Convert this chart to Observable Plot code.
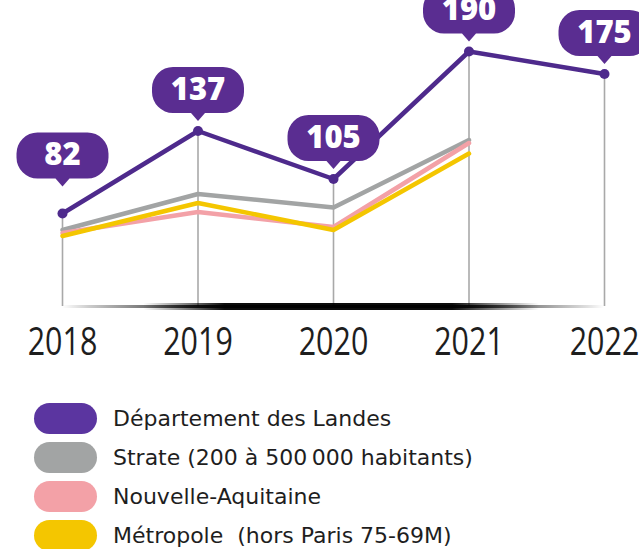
<!DOCTYPE html>
<html><head><meta charset="utf-8">
<script src="https://cdn.jsdelivr.net/npm/d3@7"></script>
<script src="https://cdn.jsdelivr.net/npm/@observablehq/plot@0.6"></script>
<style>
body{margin:0;background:#fff;}
#legend{padding-top:29px;margin-left:34px;font-family:"DejaVu Sans",sans-serif;font-size:22px;color:#1e1e1e;}
.row{display:flex;align-items:center;height:39px;}
.sw{width:63px;height:31px;border-radius:16px;margin-right:16px;flex:none;}
</style></head><body>
<div id="chart"></div><div id="legend"></div>
<script>
const years = [2018, 2019, 2020, 2021, 2022];
const landes = [82, 137, 105, 190, 175];
const strate = [71, 95, 86, 131, null];
const nouvelleAquitaine = [69, 83, 73, 129, null];
const metropole = [67, 89, 71, 122, null];
const seriesNames = ["Département des Landes", "Strate (200 à 500\u2009000 habitants)", "Nouvelle-Aquitaine", "Métropole\u00a0 (hors Paris 75-69M)"];
const seriesColors = ["#5b35a0", "#a2a4a4", "#f3a1a7", "#f4c600"];
const yBase = 20;

const toRows = (vals) => years.map((year, i) => ({year, value: vals[i]})).filter(d => d.value != null);
const landesRows = toRows(landes);

const LINE = "#4e2a8c", BUB = "#5a2d91";
const W = 92, H = 46, R = 21, TW = 7, TH = 8;
function bubble(gap) {
  return {draw(ctx) {
    const b = -gap - TH, t = b - H, l = -W / 2, r = W / 2;
    ctx.moveTo(0, -gap);
    ctx.lineTo(-TW, b);
    ctx.lineTo(l + R, b);
    ctx.arcTo(l, b, l, b - R, R);
    ctx.lineTo(l, t + R);
    ctx.arcTo(l, t, l + R, t, R);
    ctx.lineTo(r - R, t);
    ctx.arcTo(r, t, r, t + R, R);
    ctx.lineTo(r, b - R);
    ctx.arcTo(r, b, r - R, b, R);
    ctx.lineTo(TW, b);
    ctx.closePath();
  }};
}
const gapFirst = 27, gapRest = 10;
const first = landesRows.slice(0, 1), rest = landesRows.slice(1);
const labelFont = {fill: "white", fontSize: 31, fontWeight: 800, fontFamily: "Open Sans, sans-serif", text: d => String(d.value), lineAnchor: "middle"};

const chart = Plot.plot({
  width: 639, height: 370,
  marginLeft: 62, marginRight: 35, marginTop: 36, marginBottom: 64,
  x: {domain: [years[0], years[years.length - 1]], axis: null},
  y: {domain: [yBase, 200], axis: null},
  marks: [
    Plot.ruleX(landesRows, {x: "year", y1: yBase, y2: "value", stroke: "#a9a9a9", strokeWidth: 1.6}),
    Plot.ruleY([yBase], {x1: years[0], x2: years[years.length - 1], stroke: "url(#shadowThin)", strokeWidth: 3}),
    Plot.ruleY([yBase], {x1: years[0], x2: years[years.length - 1], stroke: "url(#shadowThick)", strokeWidth: 7}),
    Plot.line(toRows(strate), {x: "year", y: "value", stroke: seriesColors[1], strokeWidth: 4.5}),
    Plot.line(toRows(nouvelleAquitaine), {x: "year", y: "value", stroke: seriesColors[2], strokeWidth: 4.5}),
    Plot.line(toRows(metropole), {x: "year", y: "value", stroke: seriesColors[3], strokeWidth: 4.5}),
    Plot.line(landesRows, {x: "year", y: "value", stroke: LINE, strokeWidth: 4.5}),
    Plot.dot(landesRows, {x: "year", y: "value", r: 5, fill: LINE}),
    Plot.dot(first, {x: "year", y: "value", r: 1, symbol: bubble(gapFirst), fill: BUB}),
    Plot.dot(rest, {x: "year", y: "value", r: 1, symbol: bubble(gapRest), fill: BUB}),
    Plot.text(first, {x: "year", y: "value", dy: -(gapFirst + TH + H / 2), ...labelFont}),
    Plot.text(rest, {x: "year", y: "value", dy: -(gapRest + TH + H / 2), ...labelFont}),
    Plot.axisX(years, {tickFormat: d => String(d), tickSize: 0, tickPadding: 22, fontSize: 38, label: null,
      fontFamily: "'Open Sans', sans-serif", fontWeight: 500, fill: "#1e1e1e"})
  ]
});
document.getElementById("chart").appendChild(chart);

// condense the year labels horizontally (the reference uses a narrow face)
const yearStrings = years.map(String);
d3.select(chart).selectAll("text").filter(function () { return yearStrings.includes(this.textContent.trim()); }).each(function () {
  const t = this.getAttribute("transform");
  if (t) {
    this.setAttribute("transform", `${t} scale(0.8,1)`);
  } else {
    const x = +this.getAttribute("x") || 0;
    this.setAttribute("transform", `translate(${x},0) scale(0.8,1)`);
    this.setAttribute("x", 0);
  }
});

const xs = chart.scale("x");
const defs = d3.select(chart).insert("defs", ":first-child");
function grad(id, stops) {
  const g = defs.append("linearGradient").attr("id", id).attr("gradientUnits", "userSpaceOnUse")
    .attr("x1", xs.apply(years[0])).attr("x2", xs.apply(years[years.length - 1])).attr("y1", 0).attr("y2", 0);
  stops.forEach(([o, a]) => g.append("stop").attr("offset", o).attr("stop-color", "#000").attr("stop-opacity", a));
}
grad("shadowThin", [[0, 0], [0.05, 0.2], [0.25, 0.85], [0.75, 0.85], [0.97, 0.12], [1, 0]]);
grad("shadowThick", [[0, 0], [0.15, 0], [0.3, 0.95], [0.72, 0.95], [0.88, 0], [1, 0]]);

const legend = d3.select("#legend");
seriesNames.forEach((name, i) => {
  const row = legend.append("div").attr("class", "row");
  row.append("div").attr("class", "sw").style("background", seriesColors[i]);
  row.append("span").text(name);
});
</script>
</body></html>
